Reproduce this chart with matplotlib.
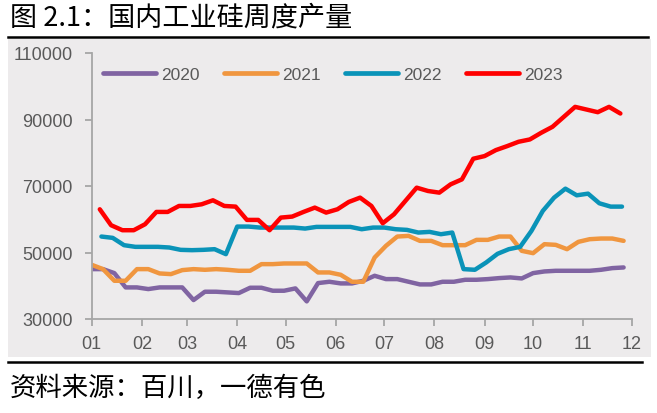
import matplotlib
matplotlib.use('Agg')
import matplotlib.pyplot as plt
import pandas as pd
from matplotlib.patches import Rectangle
from matplotlib.lines import Line2D

plt.rcParams['font.family'] = ['Liberation Sans', 'Noto Sans CJK SC', 'DejaVu Sans']

# ---- data (weekly output, tonnes) ----
years = ['2020', '2021', '2022', '2023']
start_dates = ['2023-01-01', '2023-01-01', '2023-01-07', '2023-01-06']  # mapped to a common year
prod_2020 = [45000, 45000, 43800, 39500, 39500, 39000, 39500, 39500, 39500, 35700, 38200, 38200,
             38000, 37800, 39400, 39400, 38500, 38500, 39200, 35300, 40800, 41200, 40700, 40700,
             41500, 43000, 42000, 42000, 41200, 40400, 40400, 41200, 41200, 41800, 41800, 42000,
             42300, 42500, 42200, 43800, 44300, 44500, 44500, 44500, 44500, 44800, 45300, 45500]
prod_2021 = [46300, 45000, 41500, 41500, 45000, 45000, 43700, 43500, 44700, 45000, 44800, 45000,
             44800, 44500, 44500, 46500, 46500, 46700, 46700, 46700, 44000, 44000, 43300, 41200,
             41200, 48500, 52000, 54800, 55000, 53500, 53500, 52200, 52200, 52200, 53800, 53800,
             54800, 54800, 50500, 49800, 52500, 52300, 51000, 53200, 54000, 54200, 54200, 53500]
prod_2022 = [54800, 54400, 52200, 51700, 51700, 51700, 51500, 50800, 50700, 50800, 51000, 49500,
             57800, 57800, 57500, 57500, 57500, 57500, 57200, 57700, 57700, 57700, 57700, 57000,
             57500, 57500, 57000, 56800, 56000, 56200, 55500, 56000, 45000, 44800, 47000, 49600,
             51000, 51700, 56500, 62500, 66500, 69200, 67200, 67700, 64800, 63800, 63800]
prod_2023 = [63000, 58200, 56700, 56700, 58500, 62200, 62200, 64000, 64000, 64500, 65700, 64000,
             63800, 59800, 59800, 56700, 60500, 60800, 62200, 63500, 62000, 63000, 65200, 66500,
             64000, 58800, 61500, 65500, 69500, 68500, 68000, 70500, 72000, 78200, 79000, 80800,
             82000, 83300, 84000, 86000, 87800, 90800, 93800, 93000, 92200, 93800, 91800]
series = [prod_2020, prod_2021, prod_2022, prod_2023]
colors = ['#8064A2', '#F0963F', '#0A93B8', '#FF0000']
month_labels = ['01', '02', '03', '04', '05', '06', '07', '08', '09', '10', '11', '12']
y_ticks = [30000, 50000, 70000, 90000, 110000]

W, H = 657, 414
fig = plt.figure(figsize=(W / 100, H / 100), dpi=100)
fig.patch.set_facecolor('white')

# grey panel
fig.patches.append(Rectangle((8 / W, 1 - 358 / H), (651 - 8) / W, (358 - 40) / H,
                             transform=fig.transFigure, facecolor='#EDEBEC',
                             edgecolor='none', zorder=-5))
# black rules
fig.add_artist(Line2D([8 / W, 648 / W], [1 - 37.7 / H] * 2, color='black', lw=1.8))
fig.add_artist(Line2D([8 / W, 642 / W], [1 - 363 / H] * 2, color='black', lw=1.8))

fig.text(10 / W, 1 - 18 / H, '图 2.1：国内工业硅周度产量', fontsize=19.5,
         family=['Noto Sans CJK SC', 'DejaVu Sans'], va='center', ha='left', color='black')
fig.text(10 / W, 1 - 388 / H, '资料来源：百川，一德有色', fontsize=19,
         family=['Noto Sans CJK SC', 'DejaVu Sans'], va='center', ha='left', color='black')

ax = fig.add_axes([91.7 / W, (H - 320) / H, 540 / W, 266 / H])
ax.set_facecolor('none')
ax.set_zorder(1)

for yr, start, vals, c in zip(years, start_dates, series, colors):
    dates = pd.date_range(start, periods=len(vals), freq='7D')
    ax.plot(dates, vals, color=c, lw=3.2, label=yr, solid_capstyle='round',
            solid_joinstyle='round')

month_ticks = pd.date_range('2023-01-01', '2023-12-01', freq='MS')
ax.set_xlim(month_ticks[0], month_ticks[-1])
ax.set_xticks(month_ticks)
ax.set_xticklabels(month_labels)
ax.set_ylim(30000, 110000)
ax.set_yticks(y_ticks)
ax.set_yticklabels([str(v) for v in y_ticks])

for s in ['top', 'right']:
    ax.spines[s].set_visible(False)
for s in ['left', 'bottom']:
    ax.spines[s].set_color('#A6A6A6')
    ax.spines[s].set_linewidth(1.3)

ax.tick_params(axis='both', direction='out', length=5, width=1.3, color='#A6A6A6',
               labelcolor='#595959', labelsize=13)
ax.tick_params(axis='y', pad=8.6)
ax.tick_params(axis='x', pad=6.3)

leg = ax.legend(loc='center left', bbox_to_anchor=(0.021, 0.921), ncol=4, frameon=False,
                handlelength=3.05, handletextpad=0.3, columnspacing=1.4, borderpad=0,
                borderaxespad=0, fontsize=12.5, labelcolor='#595959')
for h in leg.get_lines():
    h.set_linewidth(3.4)
    h.set_solid_capstyle('round')

fig.savefig('out.png', dpi=100, facecolor='white')
